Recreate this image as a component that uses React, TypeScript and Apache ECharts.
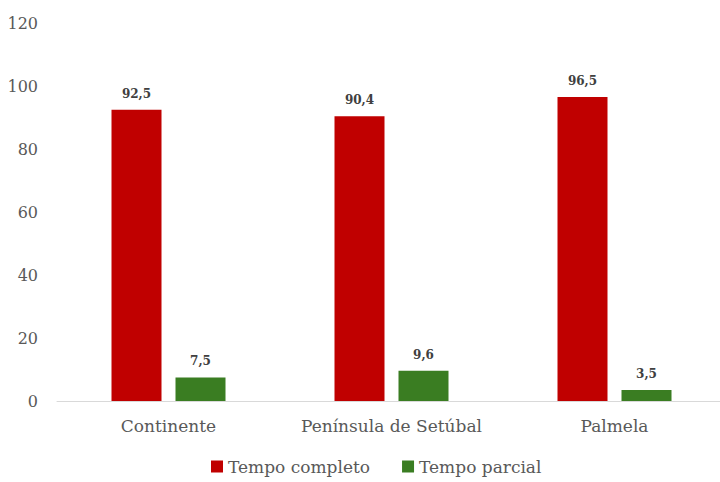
import React, { useEffect, useRef } from "react";
import * as echarts from "echarts";

const categories = ["Continente", "Península de Setúbal", "Palmela"];
const tempoCompleto = [92.5, 90.4, 96.5];
const tempoParcial = [7.5, 9.6, 3.5];
const seriesNames = ["Tempo completo", "Tempo parcial"];

const FONT = "DejaVu Serif";

export default function App() {
  const ref = useRef<HTMLDivElement>(null);
  useEffect(() => {
    const chart = echarts.init(ref.current!, null, { renderer: "svg" });
    const fmt = (p: any) => String(p.value).replace(".", ",");
    chart.setOption({
      animation: false,
      backgroundColor: "#ffffff",
      textStyle: { fontFamily: FONT },
      grid: { left: 57, top: 23, width: 669, bottom: 81, outerBoundsMode: "none", containLabel: false },
      legend: {
        bottom: 2,
        left: 206,
        itemWidth: 12,
        itemHeight: 12,
        itemGap: 32,
        icon: "rect",
        textStyle: { fontFamily: FONT, fontSize: 17, color: "#595959" },
        data: seriesNames,
      },
      xAxis: {
        type: "category",
        data: categories,
        axisLine: { show: true, lineStyle: { color: "#d9d9d9", width: 1 } },
        axisTick: { show: false },
        axisLabel: { interval: 0, fontFamily: FONT, fontSize: 17, color: "#595959", margin: 16 },
      },
      yAxis: {
        type: "value",
        min: 0,
        max: 120,
        interval: 20,
        splitLine: { show: false },
        axisLine: { show: false },
        axisTick: { show: false },
        axisLabel: { fontFamily: FONT, fontSize: 16, color: "#595959", margin: 19 },
      },
      series: [
        {
          name: seriesNames[0],
          type: "bar",
          data: tempoCompleto,
          barWidth: 50,
          barGap: "28%",
          itemStyle: { color: "#C00000" },
          label: {
            show: true,
            position: "top",
            distance: 10,
            formatter: fmt,
            fontFamily: FONT,
            fontSize: 12,
            fontWeight: "bold",
            color: "#404040",
          },
        },
        {
          name: seriesNames[1],
          type: "bar",
          data: tempoParcial,
          barWidth: 50,
          itemStyle: { color: "#3A7D22" },
          label: {
            show: true,
            position: "top",
            distance: 10,
            formatter: fmt,
            fontFamily: FONT,
            fontSize: 12,
            fontWeight: "bold",
            color: "#404040",
          },
        },
      ],
    });
    return () => chart.dispose();
  }, []);
  return <div ref={ref} style={{ width: 720, height: 482, position: "absolute", left: 0, top: 0 }} />;
}
